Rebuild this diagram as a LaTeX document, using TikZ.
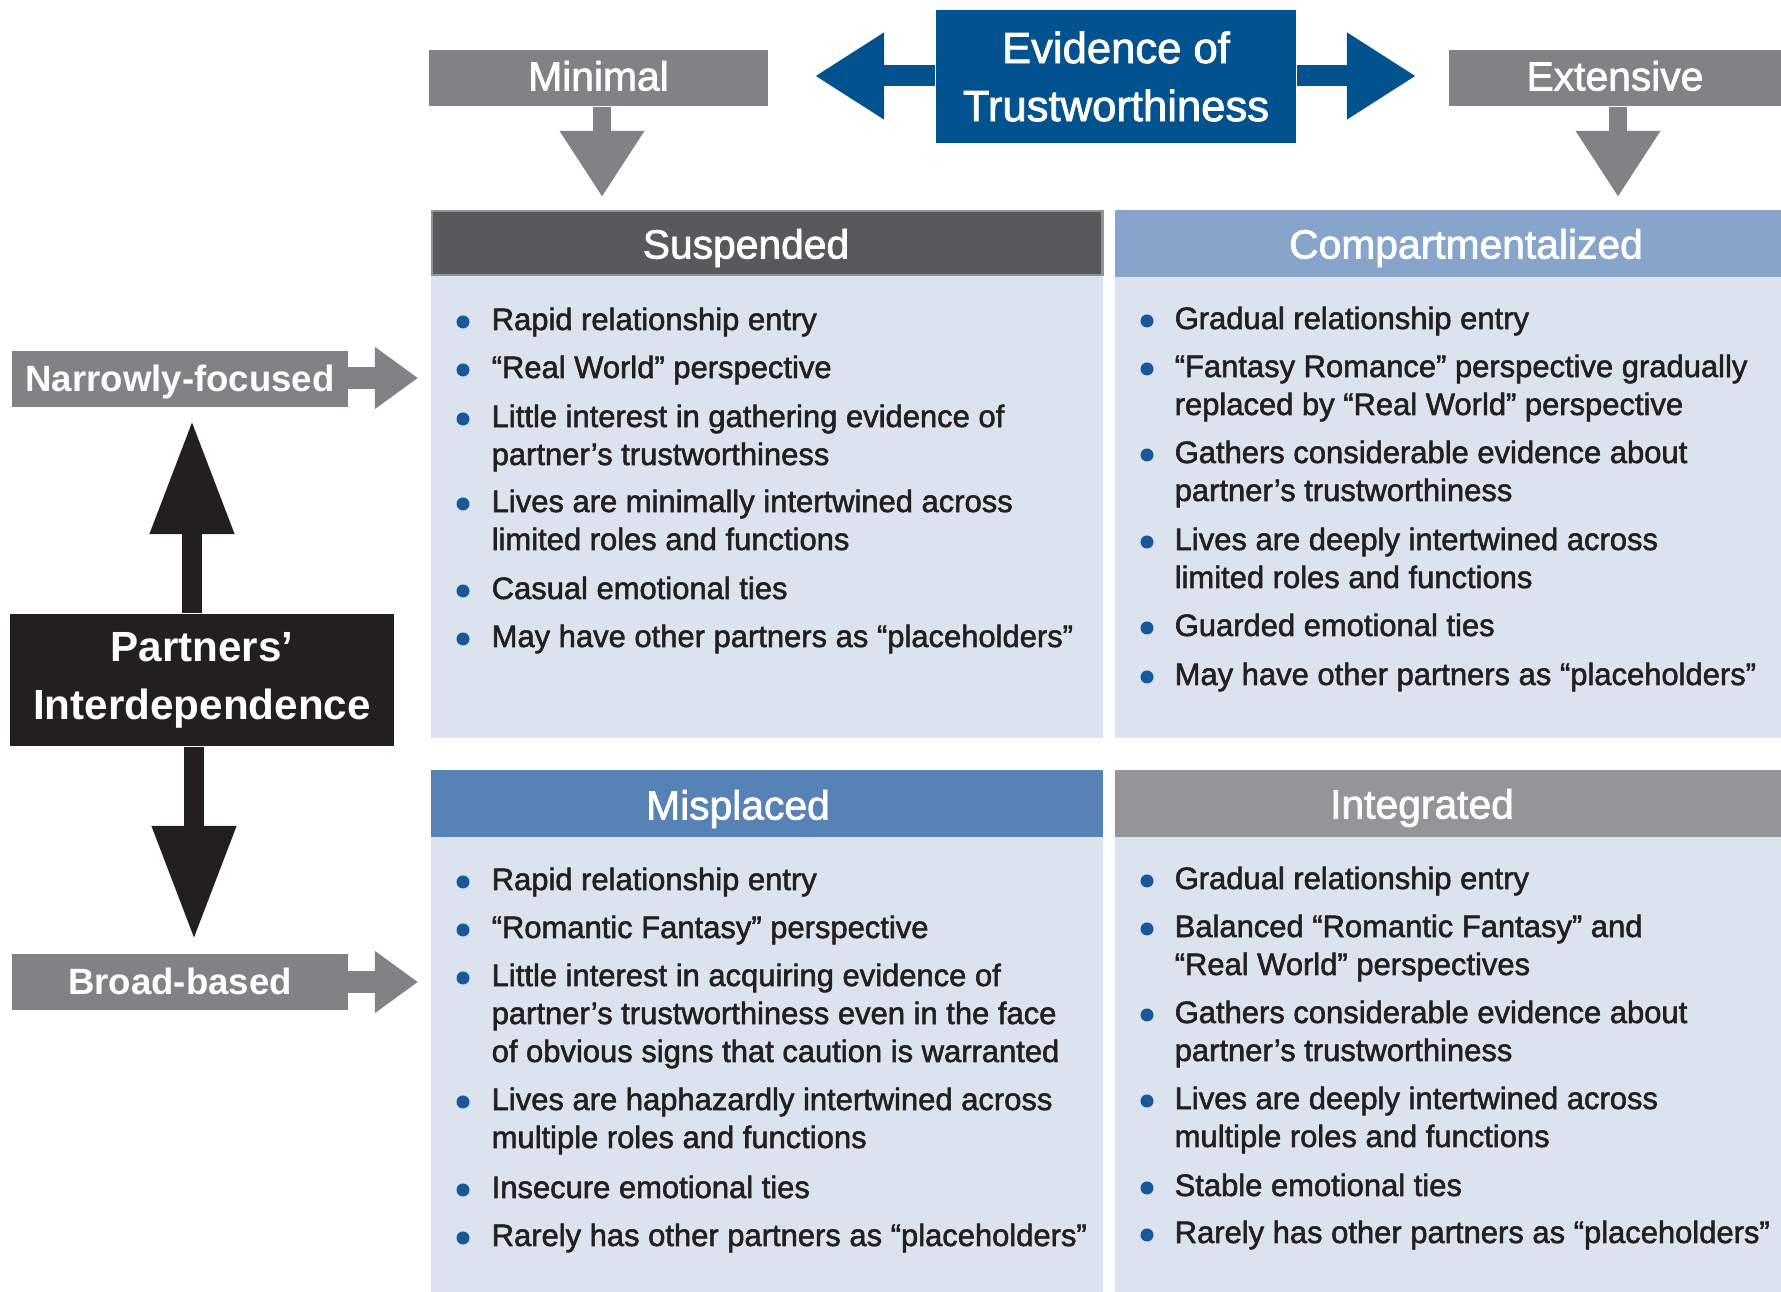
\documentclass[tikz,border=0pt]{standalone}
\usepackage{fontspec}
\setmainfont{Liberation Sans}
\newfontfamily\txtfont[FakeBold=1.8]{Liberation Sans}
\usetikzlibrary{arrows.meta}
\definecolor{labgray}{HTML}{808285}
\definecolor{evblue}{HTML}{02528F}
\definecolor{inkblack}{HTML}{231F20}
\definecolor{susphd}{HTML}{58595B}
\definecolor{comphd}{HTML}{87A5CA}
\definecolor{misphd}{HTML}{5782B5}
\definecolor{integhd}{HTML}{939598}
\definecolor{cellbg}{HTML}{DCE2EE}
\definecolor{dotblue}{HTML}{17589A}
\begin{document}
\begin{tikzpicture}[x=0.01cm, y=-0.01cm,
  lab/.style={fill=labgray, text=white, inner sep=0pt, minimum height=0.56cm, text height=8.3pt, text depth=1.2pt, font=\txtfont\fontsize{11.6}{14}\selectfont},
  side/.style={fill=labgray, text=white, inner sep=0pt, minimum width=3.35cm, minimum height=0.55cm, text height=7.6pt, text depth=0.4pt, font=\bfseries\fontsize{10.4}{12}\selectfont},
  hdr/.style={fill=#1, inner sep=0pt, anchor=north west},
  hdrtxt/.style={text=white, inner sep=0pt, font=\txtfont\fontsize{11.6}{14}\selectfont},
  cell/.style={fill=cellbg, inner sep=0pt, anchor=north west},
  item/.style={anchor=base west, inner sep=0pt, align=left, text=inkblack, font=\txtfont\fontsize{8.8}{10.8}\selectfont},
  dot/.style={circle, fill=dotblue, inner sep=0pt, minimum size=0.13cm},
  blockarr/.style={line width=#1}]
\useasboundingbox (0,0) rectangle (1781,1292);
% evidence axis
\node[fill=evblue, text=white, inner sep=0pt, minimum width=3.6cm, minimum height=1.33cm, align=center, font=\txtfont\fontsize{12.4}{16.5}\selectfont] (evidence) at (1116,76.5) {Evidence of\\Trustworthiness};
\coordinate (evL) at (815,76); \coordinate (evR) at (1416,76);
\draw[evblue, blockarr=0.21cm, -{Triangle[width=0.82cm,length=0.69cm]}] (evidence.west |- evL) -- (evL);
\draw[evblue, blockarr=0.21cm, -{Triangle[width=0.82cm,length=0.69cm]}] (evidence.east |- evR) -- (evR);
\node[lab, minimum width=3.39cm] (minimal) at (598.5,78) {Minimal};
\node[lab, minimum width=3.32cm] (extensive) at (1615,78) {Extensive};
\coordinate (minTip) at (602,197); \coordinate (extTip) at (1618,197);
\draw[labgray, blockarr=0.18cm, -{Triangle[width=0.8cm,length=0.66cm]}] (minimal.south -| minTip) -- (minTip);
\draw[labgray, blockarr=0.18cm, -{Triangle[width=0.8cm,length=0.66cm]}] (extensive.south -| extTip) -- (extTip);
% interdependence axis
\node[fill=inkblack, text=white, inner sep=0pt, minimum width=3.84cm, minimum height=1.32cm, align=center, font=\bfseries\fontsize{12}{16.5}\selectfont] (partners) at (202,680) {Partners’\\Interdependence};
\coordinate (upTip) at (192,420); \coordinate (dnTip) at (194,940);
\draw[inkblack, blockarr=0.2cm, -{Triangle[width=0.79cm,length=1.14cm]}] (partners.north -| upTip) -- (upTip);
\draw[inkblack, blockarr=0.2cm, -{Triangle[width=0.79cm,length=1.14cm]}] (partners.south -| dnTip) -- (dnTip);
\node[side] (narrow) at (180,379) {Narrowly-focused};
\node[side] (broad) at (180,982) {Broad-based};
\coordinate (narTip) at (418,378); \coordinate (brdTip) at (418,982);
\draw[labgray, blockarr=0.22cm, -{Triangle[width=0.59cm,length=0.43cm]}] (narrow.east |- narTip) -- (narTip);
\draw[labgray, blockarr=0.22cm, -{Triangle[width=0.59cm,length=0.43cm]}] (broad.east |- brdTip) -- (brdTip);
% quadrant cells
\node[cell, minimum width=6.72cm, minimum height=4.62cm] (suspC) at (430,275) {};
\node[cell, minimum width=6.67cm, minimum height=4.61cm] (compC) at (1114,276) {};
\node[cell, minimum width=6.72cm, minimum height=4.56cm] (mispC) at (430,836) {};
\node[cell, minimum width=6.67cm, minimum height=4.56cm] (integC) at (1114,836) {};
\node[hdr=susphd, draw=gray!85, line width=0.7pt, minimum width=6.70cm, minimum height=0.64cm] (suspH) at (431,210) {};
\node[hdr=comphd, minimum width=6.67cm, minimum height=0.67cm] (compH) at (1114,209) {};
\node[hdr=misphd, minimum width=6.72cm, minimum height=0.67cm] (mispH) at (430,769) {};
\node[hdr=integhd, minimum width=6.67cm, minimum height=0.67cm] (integH) at (1114,769) {};
\node[hdrtxt] (suspT) at (746,248) {Suspended};
\node[hdrtxt] (compT) at (1466,248) {Compartmentalized};
\node[hdrtxt] (mispT) at (738,809) {Misplaced};
\node[hdrtxt] (integT) at (1422,808) {Integrated};
% bullet lists: first baseline / number of lines / text
\foreach \y/\n/\itm in {330/1/{Rapid relationship entry}, 378/1/{“Real World” perspective},
  427/2/{Little interest in gathering evidence of\\partner’s trustworthiness},
  512/2/{Lives are minimally intertwined across\\limited roles and functions},
  599/1/{Casual emotional ties}, 647/1/{May have other partners as “placeholders”}} {
  \node[dot] (sd\y) at (463,\y-8) {};
  \node[item] (st\y) at (491,\y+38*\n-38) {\itm};
}
\foreach \y/\n/\itm in {329/1/{Gradual relationship entry},
  377/2/{“Fantasy Romance” perspective gradually\\replaced by “Real World” perspective},
  463/2/{Gathers considerable evidence about\\partner’s trustworthiness},
  550/2/{Lives are deeply intertwined across\\limited roles and functions},
  636/1/{Guarded emotional ties}, 685/1/{May have other partners as “placeholders”}} {
  \node[dot] (cd\y) at (1147,\y-8) {};
  \node[item] (ct\y) at (1174,\y+38*\n-38) {\itm};
}
\foreach \y/\n/\itm in {890/1/{Rapid relationship entry}, 938/1/{“Romantic Fantasy” perspective},
  986/3/{Little interest in acquiring evidence of\\partner’s trustworthiness even in the face\\of obvious signs that caution is warranted},
  1110/2/{Lives are haphazardly intertwined across\\multiple roles and functions},
  1198/1/{Insecure emotional ties}, 1246/1/{Rarely has other partners as “placeholders”}} {
  \node[dot] (md\y) at (463,\y-8) {};
  \node[item] (mt\y) at (491,\y+38*\n-38) {\itm};
}
\foreach \y/\n/\itm in {889/1/{Gradual relationship entry},
  937/2/{Balanced “Romantic Fantasy” and\\“Real World” perspectives},
  1023/2/{Gathers considerable evidence about\\partner’s trustworthiness},
  1109/2/{Lives are deeply intertwined across\\multiple roles and functions},
  1196/1/{Stable emotional ties}, 1243/1/{Rarely has other partners as “placeholders”}} {
  \node[dot] (id\y) at (1147,\y-8) {};
  \node[item] (it\y) at (1174,\y+38*\n-38) {\itm};
}
\end{tikzpicture}
\end{document}
